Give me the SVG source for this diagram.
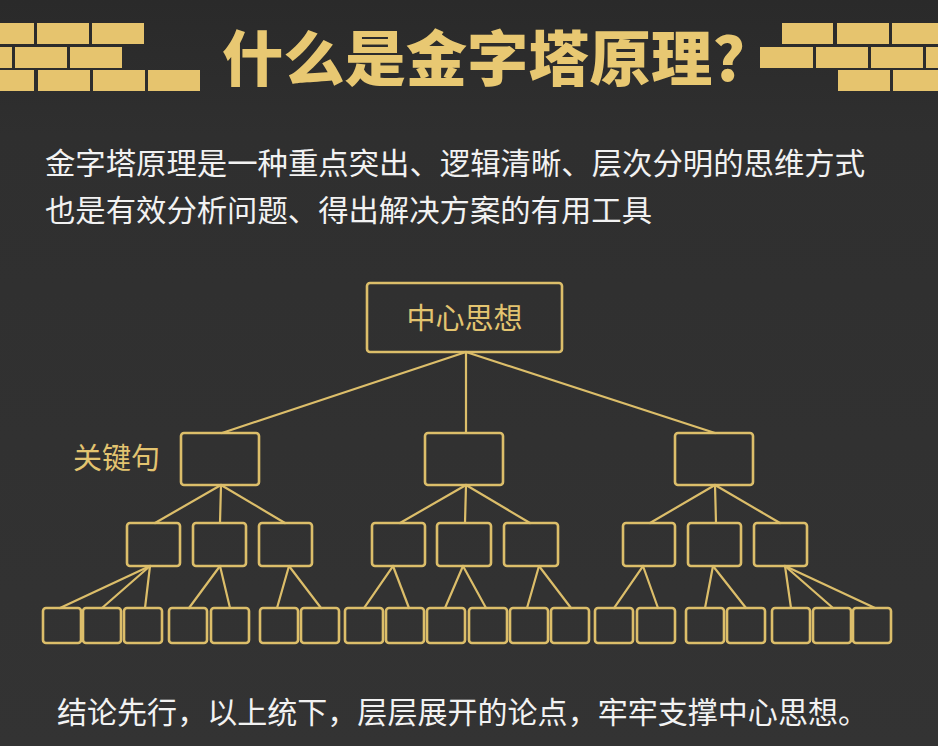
<svg xmlns="http://www.w3.org/2000/svg" width="938" height="746" viewBox="0 0 938 746">
<defs>
<linearGradient id="bg" x1="0" y1="0" x2="0" y2="1">
<stop offset="0" stop-color="#2a2a2a"/>
<stop offset="0.18" stop-color="#2f2f2f"/>
<stop offset="1" stop-color="#333333"/>
</linearGradient>
</defs>
<style>
.brick{fill:#e6c46e;}
.box{fill:none;stroke:#dcbe6a;stroke-width:2.6;}
.ln{stroke:#dcbe6a;stroke-width:2.2;fill:none;stroke-linecap:round;}
.title{font-family:"Noto Sans CJK SC","Noto Sans CJK TC",serif;font-weight:900;font-size:60px;fill:#e8c872;}
.body{font-family:"Noto Sans CJK SC","Noto Sans CJK TC",sans-serif;font-size:30px;fill:#f2f2f2;}
.gold{font-family:"Noto Sans CJK SC","Noto Sans CJK TC",sans-serif;font-size:29px;fill:#e3c470;}
</style>
<rect x="0" y="0" width="938" height="746" fill="url(#bg)"/>

<g id="bricks-left">
<rect class="brick" x="0" y="23" width="34" height="21"/>
<rect class="brick" x="37" y="23" width="52" height="21"/>
<rect class="brick" x="92" y="23" width="52" height="21"/>
<rect class="brick" x="0" y="47" width="12" height="21"/>
<rect class="brick" x="15" y="47" width="52" height="21"/>
<rect class="brick" x="70" y="47" width="52" height="21"/>
<rect class="brick" x="0" y="70" width="34" height="21"/>
<rect class="brick" x="38" y="70" width="52" height="21"/>
<rect class="brick" x="93" y="70" width="52" height="21"/>
<rect class="brick" x="148" y="70" width="52" height="21"/>
</g>
<g id="bricks-right">
<rect class="brick" x="782" y="23" width="51" height="21"/>
<rect class="brick" x="837" y="23" width="52" height="21"/>
<rect class="brick" x="892" y="23" width="46" height="21"/>
<rect class="brick" x="760" y="47" width="53" height="21"/>
<rect class="brick" x="816" y="47" width="52" height="21"/>
<rect class="brick" x="871" y="47" width="52" height="21"/>
<rect class="brick" x="926" y="47" width="12" height="21"/>
<rect class="brick" x="838" y="70" width="52" height="21"/>
<rect class="brick" x="893" y="70" width="45" height="21"/>
</g>

<g id="title">
<text class="title" x="222" y="81" textLength="523" lengthAdjust="spacingAndGlyphs">什么是金字塔原理?</text>
</g>

<g id="intro">
<text class="body" x="45" y="174" textLength="820" lengthAdjust="spacingAndGlyphs">金字塔原理是一种重点突出、逻辑清晰、层次分明的思维方式</text>
<text class="body" x="45" y="221" textLength="607" lengthAdjust="spacingAndGlyphs">也是有效分析问题、得出解决方案的有用工具</text>
</g>

<g id="connectors">
<line class="ln" x1="466" y1="352" x2="222" y2="433"/>
<line class="ln" x1="466" y1="352" x2="466" y2="433"/>
<line class="ln" x1="466" y1="352" x2="715" y2="433"/>

<line class="ln" x1="221" y1="485" x2="155" y2="523"/>
<line class="ln" x1="221" y1="485" x2="220" y2="523"/>
<line class="ln" x1="221" y1="485" x2="285" y2="523"/>
<line class="ln" x1="466" y1="485" x2="400" y2="523"/>
<line class="ln" x1="466" y1="485" x2="465" y2="523"/>
<line class="ln" x1="466" y1="485" x2="530" y2="523"/>
<line class="ln" x1="715" y1="485" x2="650" y2="523"/>
<line class="ln" x1="715" y1="485" x2="716" y2="523"/>
<line class="ln" x1="715" y1="485" x2="780" y2="523"/>

<line class="ln" x1="150" y1="566" x2="60" y2="608"/>
<line class="ln" x1="150" y1="566" x2="102" y2="608"/>
<line class="ln" x1="150" y1="566" x2="145" y2="608"/>
<line class="ln" x1="220" y1="566" x2="189" y2="608"/>
<line class="ln" x1="220" y1="566" x2="230" y2="608"/>
<line class="ln" x1="289" y1="566" x2="277" y2="608"/>
<line class="ln" x1="289" y1="566" x2="321" y2="608"/>

<line class="ln" x1="393" y1="566" x2="364" y2="608"/>
<line class="ln" x1="393" y1="566" x2="409" y2="608"/>
<line class="ln" x1="463" y1="566" x2="445" y2="608"/>
<line class="ln" x1="463" y1="566" x2="486" y2="608"/>
<line class="ln" x1="539" y1="566" x2="527" y2="608"/>
<line class="ln" x1="539" y1="566" x2="571" y2="608"/>

<line class="ln" x1="643" y1="566" x2="614" y2="608"/>
<line class="ln" x1="643" y1="566" x2="658" y2="608"/>
<line class="ln" x1="713" y1="566" x2="705" y2="608"/>
<line class="ln" x1="713" y1="566" x2="746" y2="608"/>
<line class="ln" x1="785" y1="566" x2="791" y2="608"/>
<line class="ln" x1="785" y1="566" x2="833" y2="608"/>
<line class="ln" x1="785" y1="566" x2="875" y2="608"/>
</g>

<g id="node-center">
<rect class="box" x="367" y="283" width="195" height="69" rx="3"/>
<text class="gold" x="464.5" y="329" text-anchor="middle" font-size="30">中心思想</text>
</g>

<g id="label-key">
<text class="gold" x="73" y="469" font-size="30">关键句</text>
</g>

<g id="level2">
<rect id="k1" class="box" x="181" y="433" width="78" height="52" rx="3"/>
<rect id="k2" class="box" x="425" y="433" width="78" height="52" rx="3"/>
<rect id="k3" class="box" x="675" y="433" width="78" height="52" rx="3"/>
</g>

<g id="level3">
<rect id="s1" class="box" x="127" y="523" width="53" height="43" rx="3"/>
<rect id="s2" class="box" x="193" y="523" width="53" height="43" rx="3"/>
<rect id="s3" class="box" x="259" y="523" width="53" height="43" rx="3"/>
<rect id="s4" class="box" x="372" y="523" width="53" height="43" rx="3"/>
<rect id="s5" class="box" x="437" y="523" width="54" height="43" rx="3"/>
<rect id="s6" class="box" x="504" y="523" width="54" height="43" rx="3"/>
<rect id="s7" class="box" x="623" y="523" width="52" height="43" rx="3"/>
<rect id="s8" class="box" x="688" y="523" width="53" height="43" rx="3"/>
<rect id="s9" class="box" x="754" y="523" width="53" height="43" rx="3"/>
</g>

<g id="level4">
<rect id="p1" class="box" x="43" y="608" width="38" height="35" rx="3"/>
<rect id="p2" class="box" x="83" y="608" width="38" height="35" rx="3"/>
<rect id="p3" class="box" x="124" y="608" width="38" height="35" rx="3"/>
<rect id="p4" class="box" x="169" y="608" width="38" height="35" rx="3"/>
<rect id="p5" class="box" x="211" y="608" width="38" height="35" rx="3"/>
<rect id="p6" class="box" x="260" y="608" width="38" height="35" rx="3"/>
<rect id="p7" class="box" x="301" y="608" width="38" height="35" rx="3"/>
<rect id="p8" class="box" x="345" y="608" width="38" height="35" rx="3"/>
<rect id="p9" class="box" x="386" y="608" width="38" height="35" rx="3"/>
<rect id="p10" class="box" x="427" y="608" width="38" height="35" rx="3"/>
<rect id="p11" class="box" x="469" y="608" width="38" height="35" rx="3"/>
<rect id="p12" class="box" x="510" y="608" width="38" height="35" rx="3"/>
<rect id="p13" class="box" x="551" y="608" width="38" height="35" rx="3"/>
<rect id="p14" class="box" x="595" y="608" width="38" height="35" rx="3"/>
<rect id="p15" class="box" x="637" y="608" width="38" height="35" rx="3"/>
<rect id="p16" class="box" x="686" y="608" width="38" height="35" rx="3"/>
<rect id="p17" class="box" x="727" y="608" width="38" height="35" rx="3"/>
<rect id="p18" class="box" x="772" y="608" width="38" height="35" rx="3"/>
<rect id="p19" class="box" x="813" y="608" width="38" height="35" rx="3"/>
<rect id="p20" class="box" x="853" y="608" width="38" height="35" rx="3"/>
</g>

<g id="footer">
<text class="body" x="57" y="723" textLength="811" lengthAdjust="spacingAndGlyphs">结论先行，以上统下，层层展开的论点，牢牢支撑中心思想。</text>
</g>
</svg>
